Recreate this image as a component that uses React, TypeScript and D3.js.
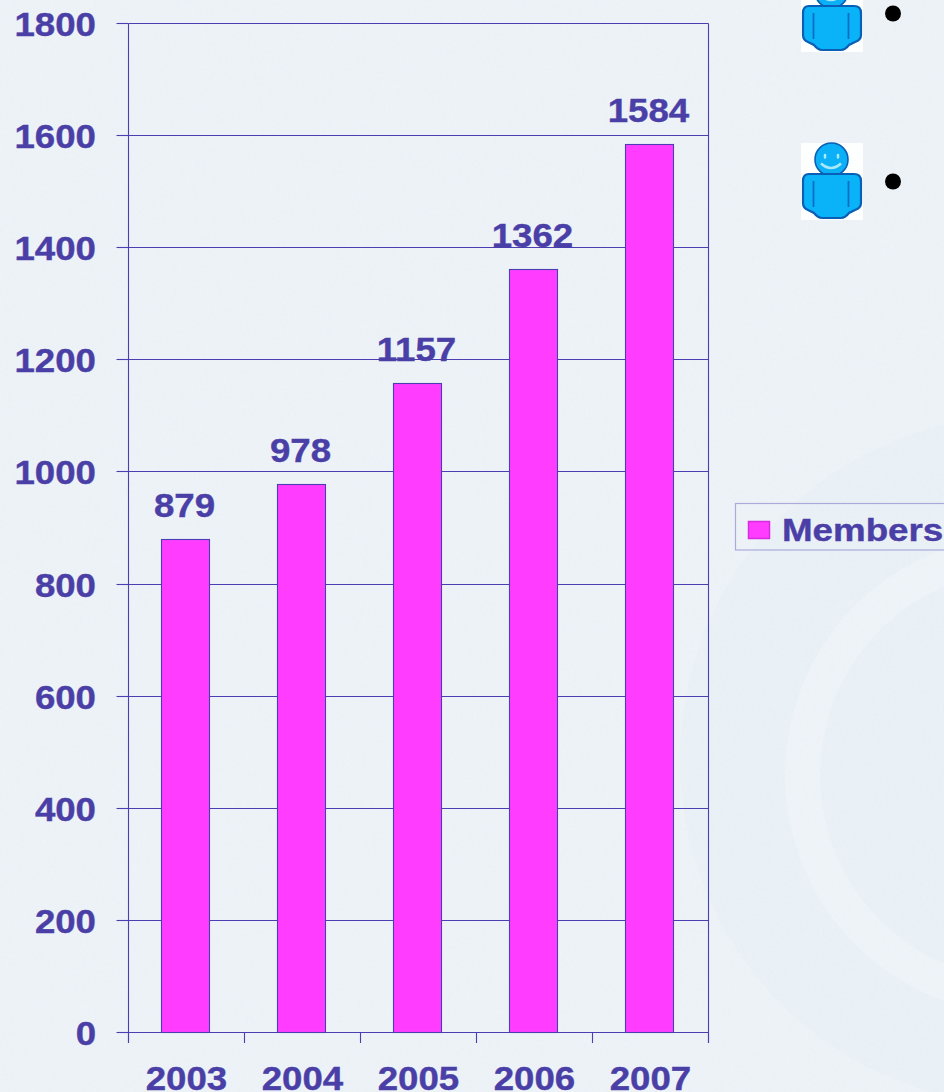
import React, { useRef, useEffect } from 'react';
import * as d3 from 'd3';

const years = ['2003', '2004', '2005', '2006', '2007'];
const members = [879, 978, 1157, 1362, 1584];
const yTicks = [0, 200, 400, 600, 800, 1000, 1200, 1400, 1600, 1800];
const legendLabel = 'Members';

const WIDTH = 944;
const HEIGHT = 1092;
const INK = '#4a3fa6';
const LINE = '#4b3db2';
const BAR = '#ff3cff';
const FONT = '"Liberation Sans", Arial, sans-serif';

const App = () => {
    const svgRef = useRef<SVGSVGElement>(null);

    useEffect(() => {
        const svg = d3.select(svgRef.current);
        svg.selectAll('*').remove();

        const x = d3.scaleBand().domain(years).range([126.5, 706.5]).paddingInner(0.59).paddingOuter(0.295);
        const outer = d3.scaleBand().domain(years).range([128.5, 708.5]);
        const yRaw = d3.scaleLinear().domain([0, 1800]).range([1032.5, 23.5]);
        const y = (v: number) => Math.floor(yRaw(v)) + 0.5;

        // background and faint watermark
        const defs = svg.append('defs');
        const noise = defs.append('filter').attr('id', 'paper').attr('x', 0).attr('y', 0).attr('width', '100%').attr('height', '100%');
        noise.append('feTurbulence').attr('type', 'fractalNoise').attr('baseFrequency', 0.35).attr('numOctaves', 2).attr('seed', 4);
        noise.append('feColorMatrix').attr('values', '0 0 0 0 1  0 0 0 0 1  0 0 0 0 1  0.5 0 0 0 -0.12');

        svg.append('rect').attr('width', WIDTH).attr('height', HEIGHT).attr('fill', '#ebf1f6');
        const mark = svg.append('g');
        const ring = d3.arc();
        mark.append('path')
            .attr('transform', 'translate(1025,760)')
            .attr('fill', '#e8eff5')
            .attr('d', ring({ innerRadius: 0, outerRadius: 345, startAngle: 0, endAngle: Math.PI * 2 }) as string);
        mark.append('path')
            .attr('transform', 'translate(1025,775)')
            .attr('fill', '#ecf2f7')
            .attr('d', ring({ innerRadius: 205, outerRadius: 240, startAngle: 0, endAngle: Math.PI * 2 }) as string);
        svg.append('rect').attr('width', WIDTH).attr('height', HEIGHT).attr('filter', 'url(#paper)').attr('opacity', 0.45);

        const stretch = (dx: number, dy: number) => `translate(${dx},${dy}) scale(1.11,1)`;
        const bold = (sel: any, size: number) => sel
            .attr('fill', INK)
            .attr('stroke', INK)
            .attr('stroke-width', 0.4)
            .attr('font-family', FONT)
            .attr('font-weight', 700)
            .attr('font-size', size);

        // value axis with its gridlines
        const yAxis = svg.append('g')
            .attr('transform', 'translate(128.5,0)')
            .call(d3.axisLeft(yRaw).tickValues(yTicks).tickSize(12).tickFormat(d3.format('d') as any));
        yAxis.select('.domain').remove();
        yAxis.selectAll('.tick').attr('transform', (d: any) => `translate(0,${y(d)})`);
        yAxis.selectAll('line').attr('stroke', LINE).attr('stroke-width', 1.1);
        bold(yAxis.selectAll('text')
            .attr('x', null)
            .attr('dy', null)
            .attr('text-anchor', 'end')
            .attr('transform', stretch(-32.5, 12)), 33);

        svg.append('g')
            .selectAll('line')
            .data(yTicks)
            .join('line')
            .attr('x1', 128.5)
            .attr('x2', 708.5)
            .attr('y1', (d) => y(d))
            .attr('y2', (d) => y(d))
            .attr('stroke', LINE)
            .attr('stroke-width', 1.1);

        // category axis, ticks sit on the band edges
        const xEdges = svg.append('g');
        [...years.map((d) => outer(d) as number), 708.5].forEach((edge) => {
            xEdges.append('line')
                .attr('x1', Math.floor(edge) + 0.5)
                .attr('x2', Math.floor(edge) + 0.5)
                .attr('y1', y(0))
                .attr('y2', 1043)
                .attr('stroke', LINE)
                .attr('stroke-width', 1.1);
        });
        svg.append('line').attr('x1', 128.5).attr('x2', 128.5).attr('y1', y(1800)).attr('y2', 1043).attr('stroke', LINE).attr('stroke-width', 1.1);
        svg.append('line').attr('x1', 708.5).attr('x2', 708.5).attr('y1', y(1800)).attr('y2', 1043).attr('stroke', LINE).attr('stroke-width', 1.1);

        bold(svg.append('g')
            .selectAll('text')
            .data(years)
            .join('text')
            .attr('transform', (d) => stretch((outer(d) as number) + outer.bandwidth() / 2, 1090))
            .attr('text-anchor', 'middle')
            .text((d) => d), 33);

        // bars
        svg.append('g')
            .selectAll('rect')
            .data(members)
            .join('rect')
            .attr('x', (d, i) => Math.round(x(years[i]) as number) + 0.5)
            .attr('y', (d) => y(d))
            .attr('width', Math.round(x.bandwidth()))
            .attr('height', (d) => y(0) - y(d))
            .attr('fill', BAR)
            .attr('stroke', LINE)
            .attr('stroke-width', 1.1);

        // value labels
        bold(svg.append('g')
            .selectAll('text')
            .data(members)
            .join('text')
            .attr('transform', (d, i) => stretch((x(years[i]) as number) + x.bandwidth() / 2, y(d) - 22.5))
            .attr('text-anchor', 'middle')
            .text((d) => d), 33);

        // legend runs off the right edge
        const legend = svg.append('g');
        legend.append('rect')
            .attr('x', 735.5).attr('y', 503.5).attr('width', 240).attr('height', 46.5)
            .attr('fill', 'none').attr('stroke', '#aaaadb').attr('stroke-width', 1.2);
        legend.append('rect')
            .attr('x', 748.5).attr('y', 521.5).attr('width', 21).attr('height', 17)
            .attr('fill', BAR).attr('stroke', '#d82ae0').attr('stroke-width', 1.5);
        bold(legend.append('text')
            .attr('transform', 'translate(782,541) scale(1.185,1)')
            .text(legendLabel), 31);

        // person icons with bullets
        [-25, 143].forEach((top) => {
            const g = svg.append('g').attr('transform', `translate(801,${top})`);
            g.append('rect').attr('width', 62).attr('height', 77).attr('fill', '#fdfefe');
            g.append('circle').attr('cx', 30.5).attr('cy', 16.5).attr('r', 16.5).attr('fill', '#0cb0f6').attr('stroke', '#0a5fb5').attr('stroke-width', 1.6);
            g.append('path')
                .attr('d', 'M24 12v2.5M37 12v2.5')
                .attr('stroke', '#a8e8fb').attr('stroke-width', 2.5).attr('stroke-linecap', 'round');
            g.append('path')
                .attr('d', 'M20 20.5q10 9 20 0')
                .attr('fill', 'none').attr('stroke', '#a8e8fb').attr('stroke-width', 2.5);
            g.append('path')
                .attr('d', 'M8 31H53Q60 31 60 38V60Q60 65 54 67L48 70Q44 75 40 75H21Q17 75 13 70L7 67Q2 65 2 60V38Q2 31 8 31Z')
                .attr('fill', '#0ab2f8').attr('stroke', '#0a5fb5').attr('stroke-width', 2.2);
            g.append('path')
                .attr('d', 'M12.5 38V64M47.5 38V64')
                .attr('stroke', '#0a6fc4').attr('stroke-width', 1.8);
            svg.append('circle').attr('cx', 893).attr('cy', top + 38.5).attr('r', 8).attr('fill', '#000');
        });
    }, []);

    return (
        <svg
            ref={svgRef}
            width={WIDTH}
            height={HEIGHT}
            style={{ position: 'absolute', left: 0, top: 0, display: 'block' }}
        />
    );
};

export default App;
